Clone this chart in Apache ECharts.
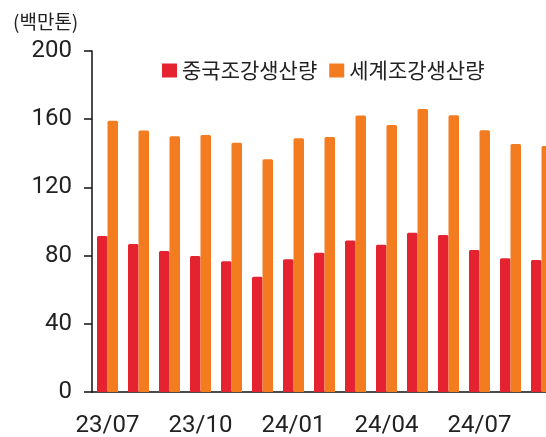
<!DOCTYPE html>
<html>
<head>
<meta charset="utf-8">
<script src="https://cdn.jsdelivr.net/npm/echarts@6/dist/echarts.min.js"></script>
<style>
  html, body { margin: 0; padding: 0; background: #fff; }
  #chart { width: 546px; height: 437px; }
</style>
</head>
<body>
<div id="chart"></div>
<script>
// 월별 조강생산량 (백만톤)
var months = ['23/07', '23/08', '23/09', '23/10', '23/11', '23/12', '24/01', '24/02',
  '24/03', '24/04', '24/05', '24/06', '24/07', '24/08', '24/09'];
var chinaSteel = [91.5, 86.8, 82.7, 79.8, 76.7, 67.6, 77.8, 81.7, 88.8, 86.4, 93.4, 92.1, 83.3, 78.4, 77.4];
var worldSteel = [159.1, 153.3, 150.0, 150.7, 146.2, 136.5, 148.8, 149.6, 162.1, 156.6, 166.0, 162.3, 153.5, 145.5, 144.3];
var yTicks = [0, 40, 80, 120, 160, 200];

var numFont = 'Roboto, "Noto Sans CJK KR", sans-serif';
var krFont = '"Noto Sans CJK KR", sans-serif';

var chart = echarts.init(document.getElementById('chart'));
chart.setOption({
  animation: false,
  color: ['#E52330', '#F47C20'],
  title: {
    text: '(백만톤)',
    left: 8,
    top: 7,
    textStyle: { fontFamily: krFont, fontSize: 19, fontWeight: 'normal', color: '#222' }
  },
  legend: {
    left: 157,
    top: 55,
    icon: 'rect',
    itemWidth: 15,
    itemHeight: 14,
    itemGap: 12,
    textStyle: { fontFamily: krFont, fontSize: 21, color: '#222' },
    data: ['중국조강생산량', '세계조강생산량']
  },
  // 오른쪽 끝 막대는 잘려 보이도록 그리드를 캔버스 밖까지 늘림
  grid: {
    left: 92,
    width: 465,
    top: 51,
    bottom: 45,
    outerBoundsMode: 'none'
  },
  xAxis: {
    type: 'category',
    data: months,
    axisLine: { lineStyle: { color: '#111', width: 1.5 } },
    axisTick: { interval: 2, length: 7, lineStyle: { color: '#111', width: 1.5 } },
    axisLabel: {
      interval: 2,
      margin: 22,
      fontFamily: numFont,
      fontSize: 24,
      color: '#222'
    }
  },
  yAxis: {
    type: 'value',
    min: yTicks[0],
    max: yTicks[yTicks.length - 1],
    interval: 40,
    splitLine: { show: false },
    axisLine: { show: true, lineStyle: { color: '#111', width: 1.5 } },
    axisTick: { show: true, length: 8, lineStyle: { color: '#111', width: 1.5 } },
    axisLabel: {
      margin: 20,
      fontFamily: numFont,
      fontSize: 24,
      color: '#222'
    }
  },
  series: [
    {
      name: '중국조강생산량',
      type: 'bar',
      barWidth: 10.5,
      barGap: 0,
      itemStyle: { borderRadius: [1.5, 1.5, 0, 0] },
      data: chinaSteel
    },
    {
      name: '세계조강생산량',
      type: 'bar',
      barWidth: 10.5,
      barGap: 0,
      itemStyle: { borderRadius: [1.5, 1.5, 0, 0] },
      data: worldSteel
    }
  ]
});
</script>
</body>
</html>
